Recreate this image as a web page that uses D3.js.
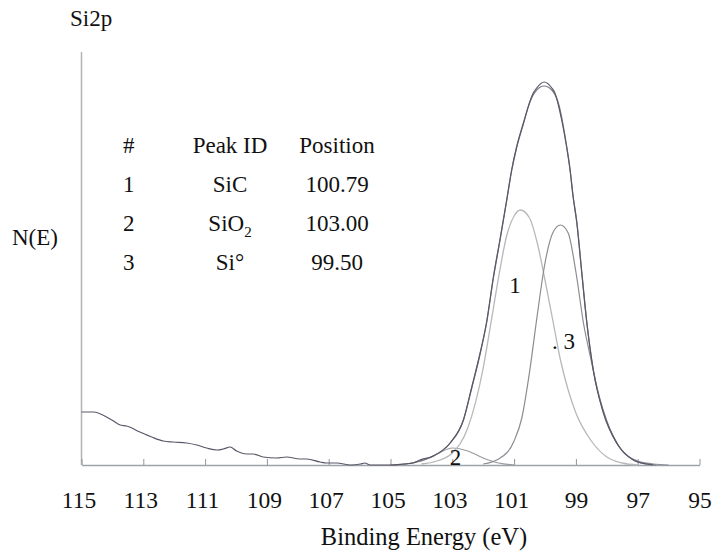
<!DOCTYPE html>
<html>
<head>
<meta charset="utf-8">
<script src="https://cdn.jsdelivr.net/npm/d3@7"></script>
<style>
  body { margin: 0; background: #fff; }
  text { font-family: "Liberation Serif", "DejaVu Serif", "Times New Roman", serif !important; }
</style>
</head>
<body>
<svg id="chart" width="713" height="554"></svg>
<script>
// binding energy (eV) / intensity pairs
const spectrumEv = [115.0, 114.62, 114.02, 113.75, 113.54, 113.11, 112.73, 112.35, 112.03, 111.6,
  111.27, 110.95, 110.62, 110.41, 110.19, 109.98, 109.65, 109.44, 109.12, 108.68, 108.36, 107.93,
  107.71, 107.28, 107.06, 106.74, 106.29, 105.97, 105.83, 105.66, 105.23, 104.91, 104.59, 104.26,
  104.05, 103.61, 103.07, 102.64, 102.37, 102.1, 101.89, 101.67, 101.46, 101.24, 101.08, 100.92,
  100.7, 100.38, 100.27, 100.03, 99.78, 99.68, 99.46, 99.3, 99.19, 99.09, 98.97, 98.81, 98.65,
  98.44, 98.11, 97.68, 97.14, 96.71, 96.5];
const spectrumN = [53, 53, 45, 40, 39, 33, 28, 24, 23, 22,
  20, 17, 15, 16, 18, 14, 11, 11, 8, 7, 8, 6,
  6, 3, 2, 2, 0, 1, 2, 0, 0, 0, 1, 2,
  5, 9, 22, 45, 78, 112, 143, 188, 225, 265, 295, 318,
  342, 372, 377, 383, 377, 372, 345, 318, 295, 268, 242, 192, 143,
  95, 52, 22, 5, 1, 0];

const envelopeEv = [105.0, 104.5, 104.05, 103.61, 103.07, 102.64, 102.37, 102.1, 101.89, 101.67,
  101.46, 101.24, 101.08, 100.92, 100.7, 100.5, 100.27, 100.03, 99.78, 99.55, 99.3, 99.19, 99.09,
  98.97, 98.81, 98.65, 98.44, 98.11, 97.68, 97.14, 96.71, 96.4];
const envelopeN = [0, 1, 4, 9, 22, 45, 77, 111, 142, 187,
  224, 264, 294, 317, 341, 362, 375, 379, 375, 360, 319, 296, 269,
  243, 193, 144, 96, 53, 22, 5, 1, 0];

// peak 1, SiC
const sicEv = [104.0, 103.5, 103.0, 102.5, 102.0, 101.75, 101.5, 101.25, 101.0, 100.8, 100.5,
  100.25, 100.0, 99.75, 99.5, 99.25, 99.0, 98.5, 98.0, 97.5, 97.0];
const sicN = [1, 4, 12, 37, 97, 142, 188, 228, 249, 255, 247,
  222, 185, 145, 105, 75, 52, 24, 8, 2, 0];

// peak 2, SiO2
const sio2Ev = [105.0, 104.5, 104.0, 103.5, 103.0, 102.5, 102.0, 101.5, 101.0];
const sio2N = [0, 1, 4, 11, 17, 14, 7, 2, 0];

// peak 3, Si metal
const siEv = [102.0, 101.5, 101.0, 100.75, 100.5, 100.25, 100.0, 99.75, 99.5, 99.25, 99.0,
  98.75, 98.5, 98.25, 98.0, 97.5, 97.0, 96.5, 96.0];
const siN = [1, 6, 24, 47, 93, 150, 202, 232, 240, 232, 193,
  141, 104, 69, 44, 14, 4, 1, 0];

const xTicks = [115, 113, 111, 109, 107, 105, 103, 101, 99, 97, 95];

const peakNums = ['1', '2', '3'];
const peakIds = ['SiC', 'SiO2', 'Si°'];
const peakPositions = ['100.79', '103.00', '99.50'];

// peak number tags drawn beside the curves
const tagText = ['1', '2', '. 3'];
const tagEv = [100.97, 102.9, 99.77];
const tagN = [172, 0, 116];

const svg = d3.select('#chart');
const fontSize = 23;
const serif = '"Liberation Serif", "DejaVu Serif", "Times New Roman", serif';

const x = d3.scaleLinear().domain([115, 95]).range([81.5, 699.5]);
const y = d3.scaleLinear().domain([0, 413]).range([465, 52]);

const zip = (evs, ns) => evs.map((e, i) => [e, ns[i]]);

const line = d3.line()
  .x(d => x(d[0]))
  .y(d => y(d[1]))
  .curve(d3.curveMonotoneX);

function drawCurve(data, color, width) {
  svg.append('path')
    .datum(data)
    .attr('fill', 'none')
    .attr('stroke', color)
    .attr('stroke-width', width)
    .attr('stroke-linejoin', 'round')
    .attr('d', line);
}

// axes
svg.append('line')
  .attr('x1', x(115)).attr('x2', x(115))
  .attr('y1', y(0)).attr('y2', y(413))
  .attr('stroke', '#b3b3b3')
  .attr('stroke-width', 1.5);

const xAxis = svg.append('g')
  .attr('transform', `translate(0,${y(0)})`)
  .call(d3.axisBottom(x)
    .tickValues(xTicks)
    .tickFormat(d3.format('d'))
    .tickSizeInner(-6)
    .tickSizeOuter(0)
    .tickPadding(26))
  .attr('font-family', serif)
  .attr('font-size', fontSize + 0.5);

xAxis.select('.domain').attr('stroke', '#9aa3ab').attr('stroke-width', 1.3);
xAxis.selectAll('.tick line').attr('stroke', '#8f969c');
xAxis.selectAll('.tick text')
  .attr('fill', '#111')
  .attr('dx', d => (d >= 100 ? -3 : 0));

// fitted components, envelope, then measured data on top
drawCurve(zip(sio2Ev, sio2N), '#9c9a9e', 1.2);
drawCurve(zip(sicEv, sicN), '#b9b7ba', 1.3);
drawCurve(zip(siEv, siN), '#8e8b93', 1.2);
drawCurve(zip(envelopeEv, envelopeN), '#7c7986', 1.2);
drawCurve(zip(spectrumEv, spectrumN), '#5c5668', 1.2);

svg.selectAll('.peak-tag')
  .data(tagText)
  .enter()
  .append('text')
  .classed('peak-tag', true)
  .attr('x', (d, i) => x(tagEv[i]))
  .attr('y', (d, i) => y(tagN[i]))
  .attr('text-anchor', (d, i) => (i === 2 ? 'start' : 'middle'))
  .attr('font-size', fontSize)
  .text(d => d);

// titles
svg.append('text')
  .attr('x', 70)
  .attr('y', 26)
  .attr('font-size', fontSize)
  .text('Si2p');

svg.append('text')
  .attr('x', 12)
  .attr('y', 245)
  .attr('font-size', fontSize)
  .text('N(E)');

svg.append('text')
  .attr('x', 424)
  .attr('y', 545)
  .attr('text-anchor', 'middle')
  .attr('font-size', 24.5)
  .text('Binding Energy (eV)');

// peak table
const table = svg.append('g').classed('peak-table', true);
const rowY = d3.scalePoint().domain(['head', ...peakNums]).range([153, 270]);

function addRow(key, num, id, pos) {
  const g = table.append('g').attr('transform', `translate(0,${rowY(key)})`);
  g.append('text').attr('x', 123).text(num);
  const idText = g.append('text').attr('x', 230).attr('text-anchor', 'middle');
  if (id.endsWith('2') && id !== '2') {
    idText.append('tspan').text(id.slice(0, -1));
    idText.append('tspan').attr('dy', 6).attr('font-size', 15).text('2');
  } else {
    idText.text(id);
  }
  g.append('text').attr('x', 337).attr('text-anchor', 'middle').text(pos);
}

addRow('head', '#', 'Peak ID', 'Position');
peakNums.forEach((n, i) => addRow(n, n, peakIds[i], peakPositions[i]));

table.selectAll('text').attr('font-size', fontSize);

svg.selectAll('text')
  .attr('font-family', serif)
  .attr('fill', '#111');
</script>
</body>
</html>
